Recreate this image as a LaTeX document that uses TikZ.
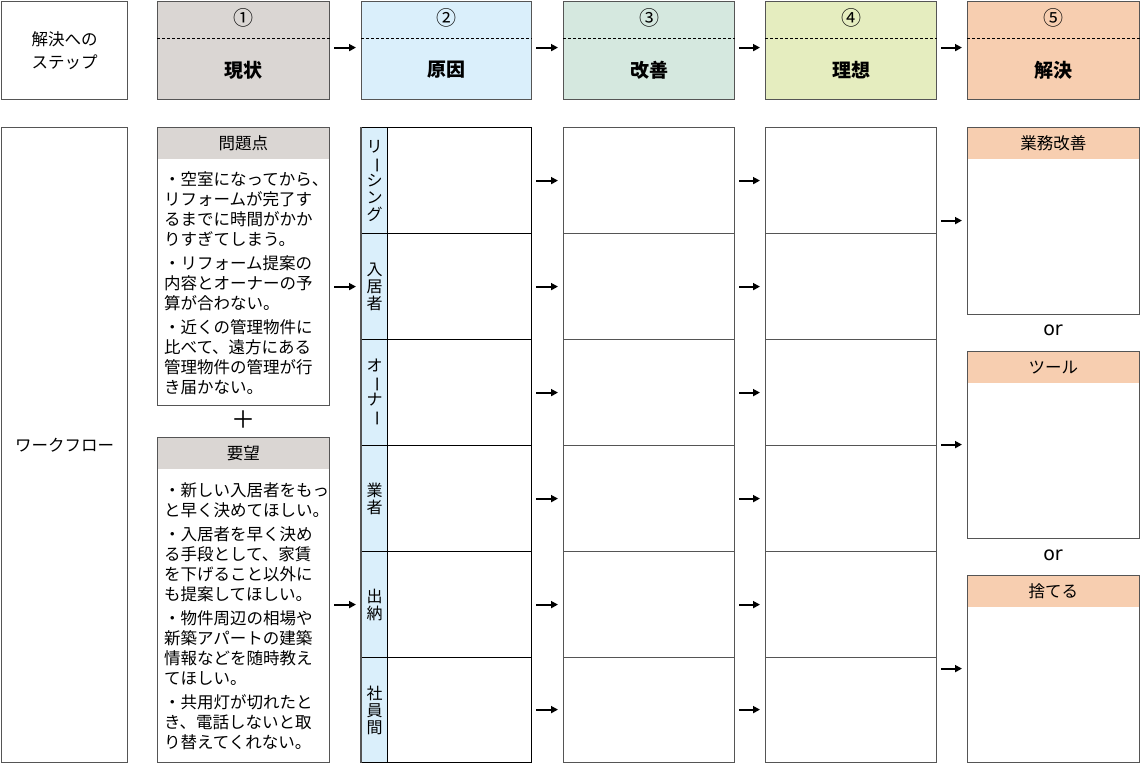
\documentclass[tikz,border=0pt]{standalone}
\usepackage{fontspec}
\usepackage{graphicx}
\setmainfont{Noto Sans CJK JP}
\newfontfamily\orfont{DejaVu Sans}
\usetikzlibrary{arrows.meta}
\definecolor{bord}{HTML}{555555}
\definecolor{cGray}{HTML}{DAD6D3}
\definecolor{cBlue}{HTML}{DAEFFB}
\definecolor{cGreen}{HTML}{D5E8DF}
\definecolor{cLime}{HTML}{E5EDBF}
\definecolor{cPeach}{HTML}{F7CEB0}
\newcommand\vchoon{\rotatebox[origin=c]{-90}{ー}}
\begin{document}
\begin{tikzpicture}[x=1pt,y=-1pt,
  bx/.style={draw=bord, line width=1.2pt, inner sep=0pt, anchor=north west},
  hbx/.style={inner sep=0pt, anchor=north west},
  lbl/.style={inner sep=0pt, font=\fontsize{16.5}{23}\selectfont, align=center},
  num/.style={inner sep=0pt, font=\fontsize{20}{22}\selectfont},
  ttl/.style={inner sep=0pt, font=\fontsize{19}{22}\selectfont\bfseries},
  arr/.style={-{Triangle[length=7pt,width=7pt]}, line width=2pt, shorten <=4pt, shorten >=5pt},
  body/.style={inner sep=0pt, anchor=north west, align=left, font=\fontsize{16.5}{20}\selectfont},
  vlab/.style={inner sep=0pt, align=center, font=\fontsize{16}{17}\selectfont},
  dsh/.style={dashed, dash pattern=on 3pt off 2pt, line width=0.9pt, draw=black},
  orst/.style={inner sep=0pt, font=\orfont\fontsize{19}{20}\selectfont},
]
\useasboundingbox (0,0) rectangle (1140,763);
\fill[white] (0,0) rectangle (1140,763);

% ---------- header row ----------
\node[bx, fill=white, minimum width=126, minimum height=98] (hdrL) at (1,1) {};
\node[lbl] (hdrLt) at (hdrL.center) {解決への\\ステップ};

\node[bx, fill=cGray,  minimum width=172, minimum height=98] (s1) at (157,1) {};
\node[bx, fill=cBlue,  minimum width=170, minimum height=98] (s2) at (361,1) {};
\node[bx, fill=cGreen, minimum width=171, minimum height=98] (s3) at (563,1) {};
\node[bx, fill=cLime,  minimum width=171, minimum height=98] (s4) at (765,1) {};
\node[bx, fill=cPeach, minimum width=172, minimum height=98] (s5) at (967,1) {};

\foreach \s/\n/\t in {s1/①/現状, s2/②/原因, s3/③/改善, s4/④/理想, s5/⑤/解決}{
  \draw[dsh] ([yshift=-37pt]\s.north west) -- ([yshift=-37pt]\s.north east);
  \node[num] (\s n) at ([yshift=-17pt]\s.north) {\n};
  \node[ttl] (\s t) at ([yshift=-69pt]\s.north) {\t};
}
\foreach \a/\b in {s1/s2, s2/s3, s3/s4, s4/s5}{
  \draw[arr] ([yshift=3pt]\a.east) -- ([yshift=3pt]\b.west);
}

% ---------- work flow ----------
\node[bx, fill=white, minimum width=126, minimum height=635] (wf) at (1,127) {};
\node[lbl] (wft) at (wf.center) {ワークフロー};

% problem box
\node[bx, fill=white, minimum width=172, minimum height=278] (prob) at (157,127) {};
\node[hbx, fill=cGray, minimum width=171, minimum height=31] (probH) at (157.6,127.6) {};
\node[lbl] (probHt) at (probH.center) {問題点};
\node[body] (probT) at (164,171.5) {・空室になってから、\\リフォームが完了す\\るまでに時間がかか\\りすぎてしまう。\\[4pt]・リフォーム提案の\\内容とオーナーの予\\算が合わない。\\[4pt]・近くの管理物件に\\比べて、遠方にある\\管理物件の管理が行\\き届かない。};

\node[inner sep=0pt, font=\fontsize{24}{24}\selectfont] (plus) at (243,420) {＋};

% request box
\node[bx, fill=white, minimum width=172, minimum height=325] (req) at (157,437) {};
\node[hbx, fill=cGray, minimum width=171, minimum height=31] (reqH) at (157.6,437.6) {};
\node[lbl] (reqHt) at (reqH.center) {要望};
\node[body] (reqT) at (164,482.5) {・新しい入居者をもっ\\と早く決めてほしい。\\[4pt]・入居者を早く決め\\る手段として、家賃\\を下げること以外に\\も提案してほしい。\\[4pt]・物件周辺の相場や\\新築アパートの建築\\情報などを随時教え\\てほしい。\\[4pt]・共用灯が切れたと\\き、電話しないと取\\り替えてくれない。};

% columns 2-4
\foreach \i/\yt/\hh/\sh/\lab in {1/127/106/0/{リ\\\vchoon\\シ\\ン\\グ}, 2/233/106/0/{入\\居\\者}, 3/339/106/0/{オ\\\vchoon\\ナ\\\vchoon}, 4/445/106/0/{業\\者}, 5/551/106/0/{出\\納}, 6/657/105/0.5/{社\\員\\間}}{
  \node[bx, draw=black, fill=white, minimum width=170, minimum height=\hh] (c2r\i) at (361,\yt) {};
  \node[bx, draw=black, fill=cBlue, minimum width=26, minimum height=\hh] (st\i) at (361,\yt) {};
  \node[vlab] (stl\i) at (st\i.center) {\lab};
  \node[bx, fill=white, minimum width=171, minimum height=\hh] (c3r\i) at (563,\yt) {};
  \node[bx, fill=white, minimum width=171, minimum height=\hh] (c4r\i) at (765,\yt) {};
  \draw[arr] ([yshift=\sh pt]c2r\i.east) -- ([yshift=\sh pt]c3r\i.west);
  \draw[arr] ([yshift=\sh pt]c3r\i.east) -- ([yshift=\sh pt]c4r\i.west);
}
\draw[bord, line width=1.2pt] (c2r1.north west) -- (c2r6.south west);

\draw[arr] (prob.east |- c2r2.west) -- (c2r2.west);
\draw[arr] (req.east |- c2r5.west) -- (c2r5.west);

% solutions
\foreach \k/\yy/\t in {1/127/業務改善, 2/351/ツール, 3/575/捨てる}{
  \node[bx, fill=white, minimum width=172, minimum height=187] (sol\k) at (967,\yy) {};
  \node[hbx, fill=cPeach, minimum width=171, minimum height=31] (solH\k) at (967.6,\yy+0.6) {};
  \node[lbl] (solHt\k) at (solH\k.center) {\t};
  \draw[arr] ([yshift=0.5pt]sol\k.west -| c4r1.east) -- ([yshift=0.5pt]sol\k.west);
}
\node[orst] (or1) at (1053,330) {or};
\node[orst] (or2) at (1053,555) {or};
\end{tikzpicture}
\end{document}
